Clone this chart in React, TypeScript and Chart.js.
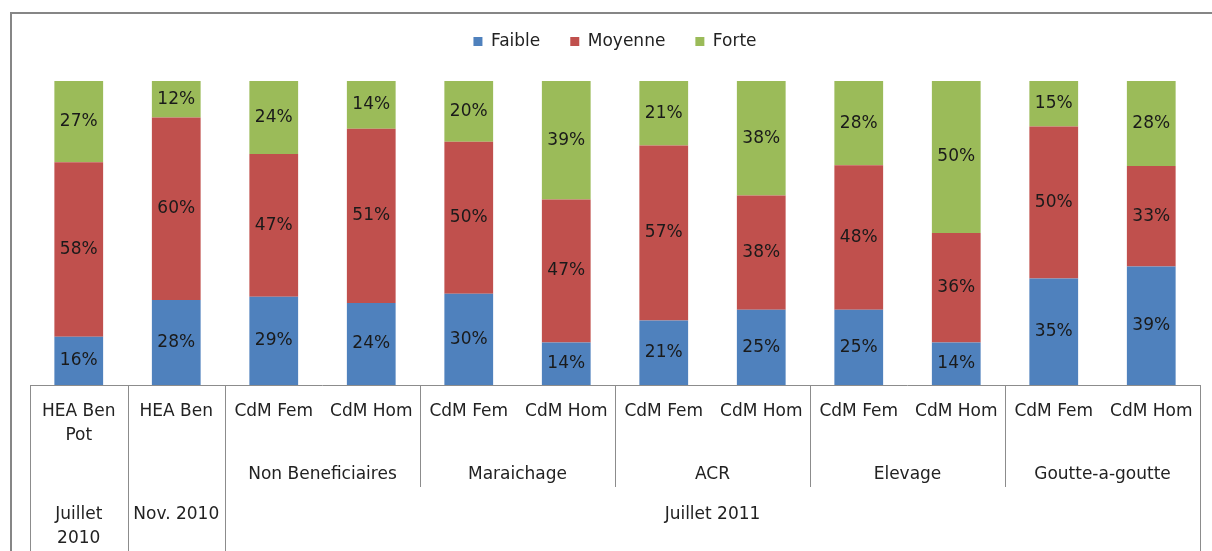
import React, { useEffect, useRef } from "react";
import { Chart, registerables } from "chart.js";

Chart.register(...registerables);

const categories: (string | string[])[] = [
  ["HEA Ben", "Pot"],
  "HEA Ben",
  "CdM Fem",
  "CdM Hom",
  "CdM Fem",
  "CdM Hom",
  "CdM Fem",
  "CdM Hom",
  "CdM Fem",
  "CdM Hom",
  "CdM Fem",
  "CdM Hom",
];

const seriesNames = ["Faible", "Moyenne", "Forte"];
const faible = [16, 28, 29, 24, 30, 14, 21, 25, 25, 14, 35, 39];
const moyenne = [58, 60, 47, 51, 50, 47, 57, 38, 48, 36, 50, 33];
const forte = [27, 12, 24, 14, 20, 39, 21, 38, 28, 50, 15, 28];
const colors = ["#4F81BD", "#C0504D", "#9BBB59"];

// second level: groups of two categories starting at index 2
const groupLabels = ["Non Beneficiaires", "Maraichage", "ACR", "Elevage", "Goutte-a-goutte"];
const groupStarts = [2, 4, 6, 8, 10];

// third level: periods
const periodLabels: string[][] = [["Juillet", "2010"], ["Nov. 2010"], ["Juillet 2011"]];
const periodStarts = [0, 1, 2];
const periodEnds = [0, 1, 11];

const FONT = "'DejaVu Sans', sans-serif";

export default function App() {
  const ref = useRef<HTMLCanvasElement>(null);

  useEffect(() => {
    if (!ref.current) return;
    const raw = [faible, moyenne, forte];
    const totals = faible.map((v, i) => v + moyenne[i] + forte[i]);
    const datasets = raw.map((arr, di) => ({
      label: seriesNames[di],
      data: arr.map((v, i) => (v / totals[i]) * 100),
      backgroundColor: colors[di],
      borderWidth: 0,
      categoryPercentage: 1,
      barPercentage: 0.5,
    }));

    const legendGapPlugin = {
      id: "legendGap",
      afterInit(chart: any) {
        const lg = chart.legend;
        if (!lg) return;
        const orig = lg.fit.bind(lg);
        lg.fit = function () {
          orig();
          this.height += 21;
        };
      },
    };

    const framePlugin = {
      id: "frame",
      beforeDraw(chart: any) {
        const ctx = chart.ctx;
        ctx.save();
        ctx.fillStyle = "#ffffff";
        ctx.fillRect(0, 0, chart.width, chart.height);
        ctx.strokeStyle = "#868686";
        ctx.lineWidth = 2;
        ctx.beginPath();
        ctx.moveTo(11, chart.height);
        ctx.lineTo(11, 13);
        ctx.lineTo(chart.width, 13);
        ctx.stroke();
        ctx.restore();
      },
    };

    const labelPlugin = {
      id: "segLabels",
      afterDatasetsDraw(chart: any) {
        const ctx = chart.ctx;
        ctx.save();
        ctx.font = `17px ${FONT}`;
        ctx.fillStyle = "#1a1a1a";
        ctx.textAlign = "center";
        ctx.textBaseline = "middle";
        chart.data.datasets.forEach((_: any, di: number) => {
          const meta = chart.getDatasetMeta(di);
          meta.data.forEach((el: any, i: number) => {
            const p = el.getProps(["x", "y", "base"], true);
            ctx.fillText(raw[di][i] + "%", p.x, (p.y + p.base) / 2);
          });
        });
        ctx.restore();
      },
    };

    const axisPlugin = {
      id: "multiAxis",
      afterDraw(chart: any) {
        const ctx = chart.ctx;
        const x = chart.scales.x;
        const area = chart.chartArea;
        const step = x.getPixelForValue(1) - x.getPixelForValue(0);
        const edge = (i: number) => x.getPixelForValue(i) - step / 2;
        const H = chart.height;
        const row2Bottom = area.bottom + 102;
        ctx.save();
        ctx.strokeStyle = "#8c8c8c";
        ctx.lineWidth = 1;
        ctx.beginPath();
        ctx.moveTo(area.left, Math.round(area.bottom) + 0.5);
        ctx.lineTo(area.right, Math.round(area.bottom) + 0.5);
        [0, 1, 2, 12].forEach((i) => {
          const px = Math.round(edge(i)) + 0.5;
          ctx.moveTo(px, area.bottom);
          ctx.lineTo(px, H);
        });
        [4, 6, 8, 10].forEach((i) => {
          const px = Math.round(edge(i)) + 0.5;
          ctx.moveTo(px, area.bottom);
          ctx.lineTo(px, row2Bottom);
        });
        ctx.stroke();

        ctx.font = `17px ${FONT}`;
        ctx.fillStyle = "#222222";
        ctx.textAlign = "center";
        ctx.textBaseline = "middle";
        groupLabels.forEach((t, k) => {
          const s = groupStarts[k];
          const cx = (edge(s) + edge(s + 2)) / 2;
          ctx.fillText(t, cx, area.bottom + 90);
        });
        periodLabels.forEach((lines, k) => {
          const cx = (edge(periodStarts[k]) + edge(periodEnds[k] + 1)) / 2;
          lines.forEach((ln, j) => {
            ctx.fillText(ln, cx, area.bottom + 130 + j * 24);
          });
        });
        ctx.restore();
      },
    };

    const chart = new Chart(ref.current, {
      type: "bar",
      data: { labels: categories, datasets },
      options: {
        responsive: false,
        animation: false,
        layout: { padding: { left: 30, right: 12, top: 3, bottom: 0 } },
        plugins: {
          legend: {
            position: "top",
            labels: {
              boxWidth: 9,
              boxHeight: 9,
              padding: 30,
              color: "#222222",
              font: { family: FONT, size: 17 },
            },
          },
          tooltip: { enabled: false },
        },
        scales: {
          x: {
            stacked: true,
            grid: { display: false, drawTicks: false },
            border: { display: false },
            ticks: {
              autoSkip: false,
              maxRotation: 0,
              minRotation: 0,
              padding: 15,
              color: "#222222",
              font: { family: FONT, size: 17, lineHeight: 1.4 },
            },
            afterFit(scale: any) {
              scale.height = 166;
            },
          },
          y: {
            stacked: true,
            display: false,
            min: 0,
            max: 100,
          },
        },
      },
      plugins: [legendGapPlugin, framePlugin, labelPlugin, axisPlugin],
    });
    return () => chart.destroy();
  }, []);

  return (
    <div style={{ position: "absolute", left: 0, top: 0, width: 1212, height: 551 }}>
      <canvas ref={ref} width={1212} height={551} style={{ display: "block" }} />
    </div>
  );
}
